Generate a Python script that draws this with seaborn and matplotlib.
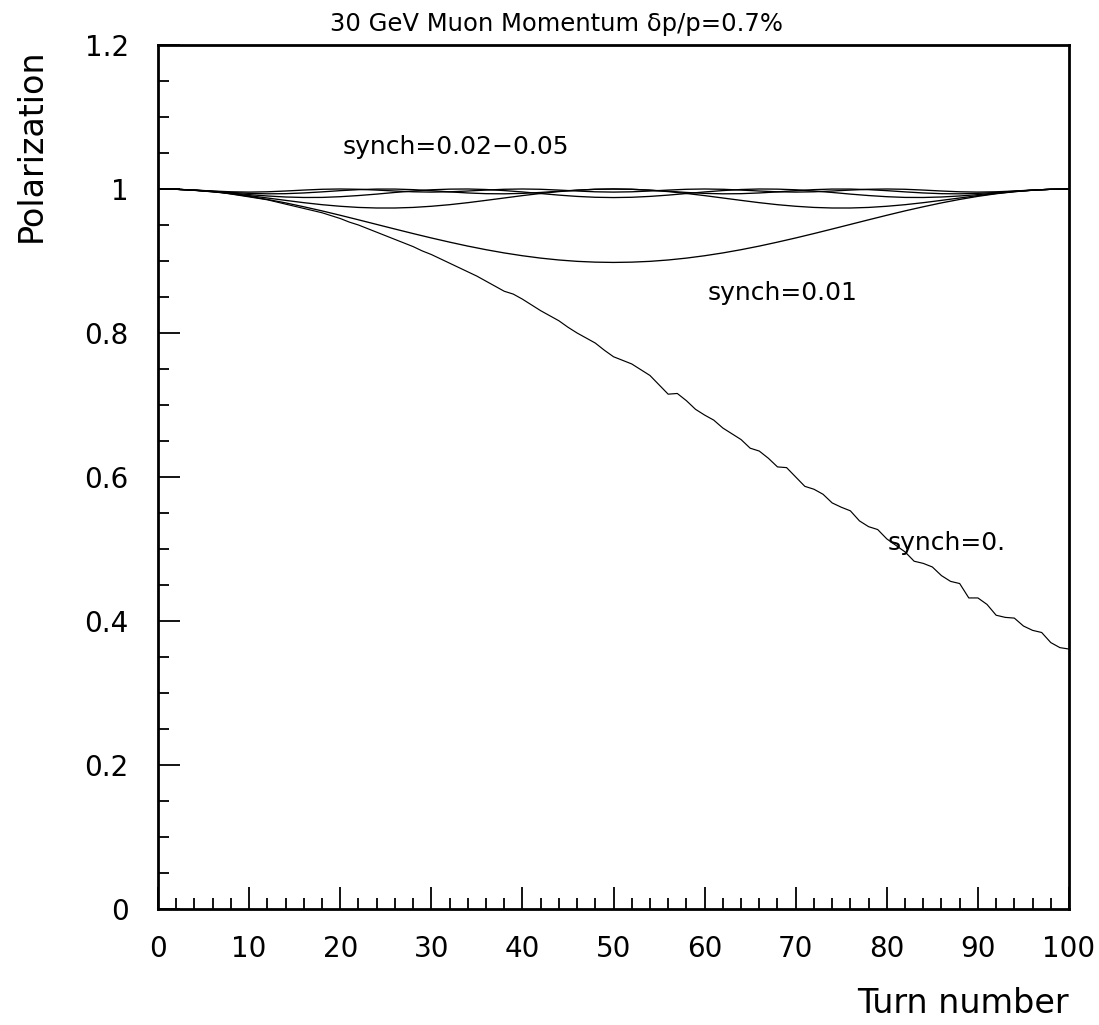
import numpy as np
import matplotlib
matplotlib.use("Agg")
import matplotlib.pyplot as plt
import seaborn as sns
from matplotlib.ticker import MultipleLocator, FuncFormatter

# Turn numbers: every turn for the unsynchronised beam, every second turn otherwise
turns_fine = np.arange(0, 101, 1)
turns = np.arange(0, 101, 2)

# Polarization vs turn, synchrotron tune = 0
pol_synch_0 = [
    1.000, 1.000, 0.9996, 0.999, 0.998, 0.997, 0.996, 0.995, 0.993, 0.991,
    0.989, 0.987, 0.985, 0.982, 0.979, 0.976, 0.973, 0.970, 0.967, 0.963,
    0.959, 0.954, 0.950, 0.945, 0.940, 0.935, 0.930, 0.925, 0.920, 0.914,
    0.909, 0.903, 0.897, 0.891, 0.885, 0.879, 0.872, 0.865, 0.858, 0.854,
    0.847, 0.839, 0.831, 0.824, 0.817, 0.808, 0.800, 0.793, 0.786, 0.776,
    0.767, 0.762, 0.757, 0.749, 0.741, 0.728, 0.715, 0.716, 0.706, 0.694,
    0.686, 0.679, 0.668, 0.660, 0.652, 0.640, 0.636, 0.626, 0.614, 0.613,
    0.600, 0.587, 0.583, 0.576, 0.564, 0.558, 0.553, 0.539, 0.531, 0.527,
    0.514, 0.505, 0.496, 0.483, 0.480, 0.475, 0.463, 0.455, 0.452, 0.432,
    0.432, 0.423, 0.408, 0.405, 0.404, 0.393, 0.387, 0.384, 0.370, 0.363,
    0.361,
]

# synchrotron tune = 0.01
pol_synch_001 = [
    1.0000, 0.9996, 0.9983, 0.9962, 0.9934, 0.9898, 0.9855, 0.9807, 0.9753, 0.9696,
    0.9635, 0.9572, 0.9508, 0.9444, 0.9381, 0.9320, 0.9262, 0.9207, 0.9157, 0.9112,
    0.9073, 0.9040, 0.9014, 0.8995, 0.8984, 0.8980, 0.8984, 0.8995, 0.9014, 0.9040,
    0.9073, 0.9112, 0.9157, 0.9207, 0.9262, 0.9320, 0.9381, 0.9444, 0.9508, 0.9572,
    0.9635, 0.9696, 0.9753, 0.9807, 0.9855, 0.9898, 0.9934, 0.9962, 0.9983, 0.9996,
    1.0000,
]

# synchrotron tune = 0.02
pol_synch_002 = [
    1.0000, 0.9996, 0.9983, 0.9964, 0.9938, 0.9908, 0.9875, 0.9842, 0.9810, 0.9782,
    0.9760, 0.9744, 0.9736, 0.9736, 0.9744, 0.9760, 0.9782, 0.9810, 0.9842, 0.9875,
    0.9908, 0.9938, 0.9964, 0.9983, 0.9996, 1.0000, 0.9996, 0.9983, 0.9964, 0.9938,
    0.9908, 0.9875, 0.9842, 0.9810, 0.9782, 0.9760, 0.9744, 0.9736, 0.9736, 0.9744,
    0.9760, 0.9782, 0.9810, 0.9842, 0.9875, 0.9908, 0.9938, 0.9964, 0.9983, 0.9996,
    1.0000,
]

# synchrotron tune = 0.03
pol_synch_003 = [
    1.0000, 0.9996, 0.9984, 0.9966, 0.9944, 0.9922, 0.9903, 0.9889, 0.9882, 0.9883,
    0.9893, 0.9909, 0.9929, 0.9952, 0.9972, 0.9989, 0.9998, 1.0000, 0.9993, 0.9978,
    0.9959, 0.9937, 0.9915, 0.9897, 0.9885, 0.9881, 0.9885, 0.9897, 0.9915, 0.9937,
    0.9959, 0.9978, 0.9993, 1.0000, 0.9998, 0.9989, 0.9972, 0.9952, 0.9929, 0.9909,
    0.9893, 0.9883, 0.9882, 0.9889, 0.9903, 0.9922, 0.9944, 0.9966, 0.9984, 0.9996,
    1.0000,
]

# synchrotron tune = 0.04
pol_synch_004 = [
    1.0000, 0.9996, 0.9984, 0.9969, 0.9952, 0.9939, 0.9933, 0.9935, 0.9945, 0.9960,
    0.9977, 0.9991, 0.9999, 0.9999, 0.9991, 0.9977, 0.9960, 0.9945, 0.9935, 0.9933,
    0.9939, 0.9952, 0.9969, 0.9984, 0.9996, 1.0000, 0.9996, 0.9984, 0.9969, 0.9952,
    0.9939, 0.9933, 0.9935, 0.9945, 0.9960, 0.9977, 0.9991, 0.9999, 0.9999, 0.9991,
    0.9977, 0.9960, 0.9945, 0.9935, 0.9933, 0.9939, 0.9952, 0.9969, 0.9984, 0.9996,
    1.0000,
]

# synchrotron tune = 0.05
pol_synch_005 = [
    1.0000, 0.9996, 0.9985, 0.9972, 0.9961, 0.9957, 0.9961, 0.9972, 0.9985, 0.9996,
    1.0000, 0.9996, 0.9985, 0.9972, 0.9961, 0.9957, 0.9961, 0.9972, 0.9985, 0.9996,
    1.0000, 0.9996, 0.9985, 0.9972, 0.9961, 0.9957, 0.9961, 0.9972, 0.9985, 0.9996,
    1.0000, 0.9996, 0.9985, 0.9972, 0.9961, 0.9957, 0.9961, 0.9972, 0.9985, 0.9996,
    1.0000, 0.9996, 0.9985, 0.9972, 0.9961, 0.9957, 0.9961, 0.9972, 0.9985, 0.9996,
    1.0000,
]

sns.set_theme(style="white")
plt.rcParams["font.family"] = ["DejaVu Sans"]
plt.rcParams["axes.edgecolor"] = "black"
plt.rcParams["text.color"] = "black"
plt.rcParams["xtick.color"] = "black"
plt.rcParams["ytick.color"] = "black"

fig = plt.figure(figsize=(10.99, 10.25), dpi=100)
ax = fig.add_axes([0.1438, 0.1132, 0.8289, 0.8429])

for series in [pol_synch_005, pol_synch_004, pol_synch_003, pol_synch_002, pol_synch_001]:
    sns.lineplot(x=turns, y=series, ax=ax, color="black", linewidth=0.95)
sns.lineplot(x=turns_fine, y=pol_synch_0, ax=ax, color="black", linewidth=0.85)

ax.set_xlim(0, 100)
ax.set_ylim(0, 1.2)
ax.set_xlabel("")
ax.set_ylabel("")

ax.xaxis.set_major_locator(MultipleLocator(10))
ax.xaxis.set_minor_locator(MultipleLocator(2))
ax.yaxis.set_major_locator(MultipleLocator(0.2))
ax.yaxis.set_minor_locator(MultipleLocator(0.05))
ax.xaxis.set_major_formatter(FuncFormatter(lambda v, _: f"{v:.0f}"))
ax.yaxis.set_major_formatter(FuncFormatter(lambda v, _: f"{round(v, 2):g}"))

ax.tick_params(which="both", direction="in", top=False, right=False,
               bottom=True, left=True, width=1.3, color="black")
ax.tick_params(which="major", length=16, labelsize=20, labelcolor="black")
ax.tick_params(axis="x", which="major", pad=19)
ax.tick_params(axis="y", which="major", pad=21)
ax.tick_params(which="minor", length=8)

for spine in ax.spines.values():
    spine.set_visible(True)
    spine.set_linewidth(2.0)
    spine.set_color("black")

# curve labels
ax.text(20.3, 1.058, "synch=0.02\u22120.05", fontsize=18, va="center", ha="left", color="black")
ax.text(60.3, 0.855, "synch=0.01", fontsize=18, va="center", ha="left", color="black")
ax.text(80.1, 0.508, "synch=0.", fontsize=18, va="center", ha="left", color="black")

# title and axis titles
fig.text(330 / 1099, 1 - 31 / 1025, "30 GeV Muon Momentum \u03b4p/p=0.7%",
         fontsize=17.5, ha="left", va="baseline", color="black")
fig.text(31 / 1099, 1 - 145 / 1025, "Polarization", fontsize=24,
         rotation=90, ha="center", va="center", color="black")
fig.text(1069 / 1099, 1 - 1013 / 1025, "Turn number", fontsize=24,
         ha="right", va="baseline", color="black")

fig.savefig("out.png", dpi=100, facecolor="white")
